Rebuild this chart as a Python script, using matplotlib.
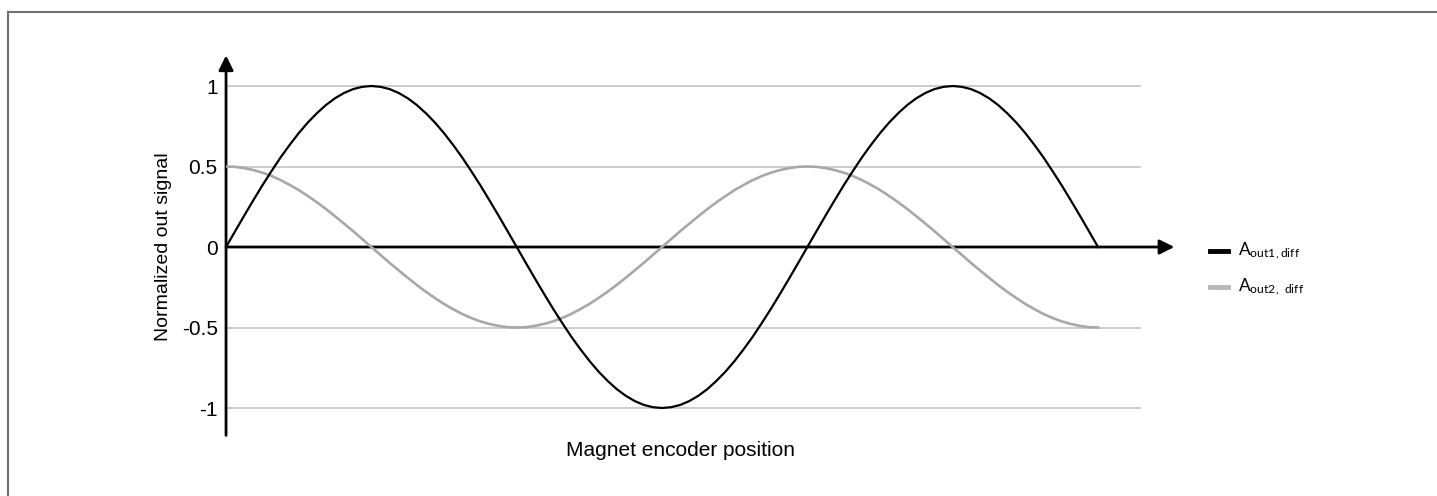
import matplotlib
matplotlib.use('Agg')
import matplotlib.pyplot as plt
from matplotlib.lines import Line2D

# posisjon i 1/64 periode
pos = list(range(97))

a_out1 = [0, .098, .195, .290, .383, .471, .556, .634, .707, .773, .831, .882, .924, .957, .981, .995, 1,
          .995, .981, .957, .924, .882, .831, .773, .707, .634, .556, .471, .383, .290, .195, .098, 0,
          -.098, -.195, -.290, -.383, -.471, -.556, -.634, -.707, -.773, -.831, -.882, -.924, -.957, -.981, -.995, -1,
          -.995, -.981, -.957, -.924, -.882, -.831, -.773, -.707, -.634, -.556, -.471, -.383, -.290, -.195, -.098, 0,
          .098, .195, .290, .383, .471, .556, .634, .707, .773, .831, .882, .924, .957, .981, .995, 1,
          .995, .981, .957, .924, .882, .831, .773, .707, .634, .556, .471, .383, .290, .195, .098, 0]

a_out2 = [.500, .498, .490, .478, .462, .441, .416, .386, .354, .317, .278, .236, .191, .145, .098, .049, 0,
          -.049, -.098, -.145, -.191, -.236, -.278, -.317, -.354, -.386, -.416, -.441, -.462, -.478, -.490, -.498, -.500,
          -.498, -.490, -.478, -.462, -.441, -.416, -.386, -.354, -.317, -.278, -.236, -.191, -.145, -.098, -.049, 0,
          .049, .098, .145, .191, .236, .278, .317, .354, .386, .416, .441, .462, .478, .490, .498, .500,
          .498, .490, .478, .462, .441, .416, .386, .354, .317, .278, .236, .191, .145, .098, .049, 0,
          -.049, -.098, -.145, -.191, -.236, -.278, -.317, -.354, -.386, -.416, -.441, -.462, -.478, -.490, -.498, -.500]

y_ticks = [-1, -0.5, 0, 0.5, 1]
y_labels = ['-1', '-0.5', '0', '0.5', '1']

plt.rcParams['font.family'] = ['Liberation Sans', 'DejaVu Sans']

fig = plt.figure(figsize=(14.37, 4.96), dpi=100)
ax = fig.add_axes([0.1573, 0.1125, 0.6637, 0.779])
ax.set_xlim(0, 105)
ax.set_ylim(-1.2, 1.2)
for s in ax.spines.values():
    s.set_visible(False)
ax.set_xticks([])
ax.set_yticks(y_ticks)
ax.set_yticklabels(y_labels, fontsize=15)
ax.tick_params(axis='y', length=0, pad=6)

# rutenett
for yv in y_ticks:
    if yv != 0:
        ax.plot([0, 100.6], [yv, yv], color='#c8c8c8', lw=1.3, zorder=1)

# akser med piler
ax.annotate('', xy=(104.4, 0), xytext=(0, 0),
            arrowprops=dict(arrowstyle='-|>', color='black', lw=2, mutation_scale=22, shrinkA=0, shrinkB=0))
ax.annotate('', xy=(0, 1.19), xytext=(0, -1.17),
            arrowprops=dict(arrowstyle='-|>', color='black', lw=2, mutation_scale=22, shrinkA=0, shrinkB=0))

ax.plot(pos, a_out2, color='#a8a8a8', lw=1.9, zorder=3, solid_joinstyle='round')
ax.plot(pos, a_out1, color='black', lw=1.6, zorder=4, solid_joinstyle='round')

fig.text(163 / 1437, 249 / 496, 'Normalized out signal', rotation=90, fontsize=14,
         ha='center', va='center')
fig.text(680 / 1437, 46 / 496, 'Magnet encoder position', fontsize=15, ha='center', va='center')

# legende
fig.add_artist(Line2D([1210 / 1437, 1228 / 1437], [245 / 496, 245 / 496], color='black', lw=3.5))
fig.add_artist(Line2D([1210 / 1437, 1228 / 1437], [209 / 496, 209 / 496], color='#b8b8b8', lw=3.5))
fig.text(1238 / 1437, 245 / 496, r'$\mathregular{A_{out1,diff}}$', fontsize=12.5, va='center',
         family='Lato')
fig.text(1238 / 1437, 209 / 496, r'$\mathregular{A_{out2,\ diff}}$', fontsize=12.5, va='center',
         family='Lato')

# ramme
fig.add_artist(Line2D([8 / 1437, 1], [484 / 496, 484 / 496], color='#707070', lw=1.5))
fig.add_artist(Line2D([8 / 1437, 8 / 1437], [0, 484 / 496], color='#707070', lw=1.5))

fig.savefig('out.png', dpi=100)
